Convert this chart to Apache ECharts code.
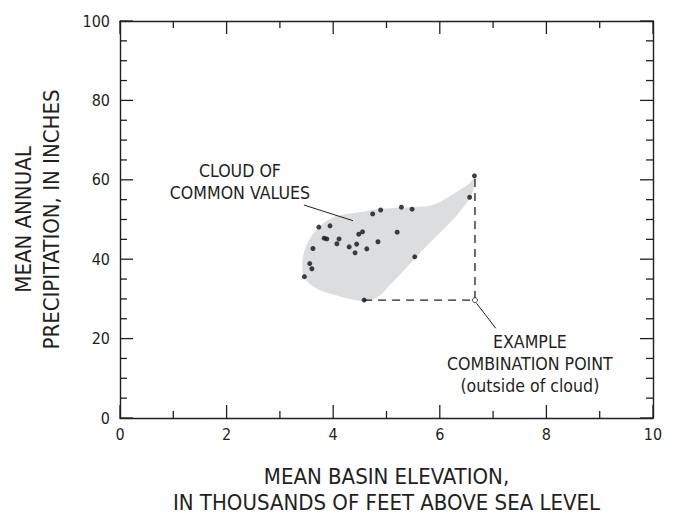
<!DOCTYPE html>
<html>
<head>
<meta charset="utf-8">
<script src="https://cdn.jsdelivr.net/npm/echarts@6/dist/echarts.min.js"></script>
<style>html,body{margin:0;padding:0;background:#fff;overflow:hidden}#c{width:675px;height:514px}</style>
</head>
<body>
<div id="c"></div>
<script>
// ---- data ----
var xTicks = [0, 2, 4, 6, 8, 10];
var xMinorTicks = [1, 3, 5, 7, 9];
var yTicks = [0, 20, 40, 60, 80, 100];
var yMinorTicks = [5, 10, 15, 25, 30, 35, 45, 50, 55, 65, 70, 75, 85, 90, 95];
// observed basins: [mean basin elevation (1000 ft), mean annual precipitation (in)]
var basinPoints = [
  [6.65, 61.0], [6.56, 55.6], [5.28, 53.1], [5.48, 52.6], [4.89, 52.4],
  [4.74, 51.4], [3.73, 48.1], [3.94, 48.4], [4.55, 46.9], [4.48, 46.3],
  [5.20, 46.8], [3.83, 45.3], [3.88, 45.1], [4.11, 45.1], [4.07, 43.9],
  [4.84, 44.4], [4.44, 43.8], [4.30, 43.1], [4.63, 42.6], [4.41, 41.6],
  [3.62, 42.7], [5.53, 40.6], [3.56, 38.9], [3.60, 37.6], [3.46, 35.6],
  [4.58, 29.7]
];
var examplePoint = [[6.66, 29.7]];
var dashedPath = [[4.58, 29.7], [6.66, 29.7], [6.66, 61.0]];
// outline of the cloud of common values
var cloudOutline = [
  [6.657, 60.8], [6.66, 59.2], [6.563, 55.4], [6.319, 51.1], [6.000, 46.6],
  [5.681, 42.3], [5.381, 38.0], [5.063, 33.5], [4.838, 30.5], [4.594, 29.5],
  [4.350, 29.85], [4.031, 31.0], [3.788, 32.0], [3.563, 33.75], [3.450, 35.5],
  [3.422, 38.0], [3.441, 41.1], [3.525, 44.3], [3.656, 46.85], [3.844, 49.4],
  [4.088, 50.96], [4.538, 51.9], [4.875, 52.64], [5.250, 52.97], [5.625, 53.22],
  [5.869, 53.65], [6.131, 55.42], [6.375, 57.43], [6.563, 59.19]
];
var annotations = [
  {at: [2.25, 59.5], text: 'CLOUD OF\nCOMMON VALUES'},
  {at: [7.69, 13.5], text: 'EXAMPLE\nCOMBINATION POINT\n(outside of cloud)'}
];
var leaderLines = [
  [[3.45, 53.65], [4.37, 49.7]],
  [[6.69, 28.9], [7.05, 22.6]]
];
var xTitle = 'MEAN BASIN ELEVATION,\nIN THOUSANDS OF FEET ABOVE SEA LEVEL';
var yTitle = 'MEAN ANNUAL\nPRECIPITATION, IN INCHES';

// ---- chart ----
var FONT = '"Liberation Sans Narrow","DejaVu Sans Condensed","Arial Narrow",sans-serif';
var INK = '#231f20';
var MAJOR = 13, MINOR = 7;
var chart = echarts.init(document.getElementById('c'), null, {renderer: 'svg'});

var xMin = xTicks[0], xMax = xTicks[xTicks.length - 1];
var yMin = yTicks[0], yMax = yTicks[yTicks.length - 1];

function axisCommon(showLabel) {
  return {
    axisLine: {show: true, onZero: false, lineStyle: {color: INK, width: 1.4}},
    axisTick: {show: false},
    minorTick: {show: false},
    splitLine: {show: false},
    axisLabel: {show: showLabel, color: INK, fontFamily: FONT, fontSize: 16}
  };
}
var xb = Object.assign(axisCommon(true), {
  type: 'value', position: 'bottom', min: xMin, max: xMax, interval: 2,
  name: xTitle, nameLocation: 'middle', nameGap: 45,
  nameTextStyle: {color: INK, fontFamily: FONT, fontSize: 22, lineHeight: 26}
});
xb.axisLabel.margin = 8;
var xt = Object.assign(axisCommon(false), {
  type: 'value', position: 'top', min: xMin, max: xMax, interval: 2
});
var yl = Object.assign(axisCommon(true), {
  type: 'value', position: 'left', min: yMin, max: yMax, interval: 20,
  name: yTitle, nameLocation: 'middle', nameGap: 55, nameRotate: 90,
  nameTextStyle: {color: INK, fontFamily: FONT, fontSize: 22, lineHeight: 28}
});
yl.axisLabel.margin = 10;
var yr = Object.assign(axisCommon(false), {
  type: 'value', position: 'right', min: yMin, max: yMax, interval: 20
});

var series = [];
series.push({
  type: 'custom', name: 'cloud', coordinateSystem: 'cartesian2d', silent: true, z: 1,
  data: [[0, 0]],
  renderItem: function (params, api) {
    var pts = cloudOutline.map(function (p) { return api.coord(p); });
    return {type: 'polygon', shape: {points: pts, smooth: 0.35}, style: {fill: '#dcddde', stroke: null}};
  }
});
// inward tick marks on all four sides, placed through the axis scales
series.push({
  type: 'custom', name: 'ticks', coordinateSystem: 'cartesian2d', silent: true, z: 6,
  data: [[0, 0]],
  renderItem: function (params, api) {
    var st = {stroke: INK, lineWidth: 1.3};
    var kids = [];
    function xt(v, len) {
      var a = api.coord([v, yMin]), b = api.coord([v, yMax]);
      kids.push({type: 'line', shape: {x1: a[0], y1: a[1], x2: a[0], y2: a[1] - len}, style: st});
      kids.push({type: 'line', shape: {x1: b[0], y1: b[1], x2: b[0], y2: b[1] + len}, style: st});
    }
    function yt(v, len) {
      var a = api.coord([xMin, v]), b = api.coord([xMax, v]);
      kids.push({type: 'line', shape: {x1: a[0], y1: a[1], x2: a[0] + len, y2: a[1]}, style: st});
      kids.push({type: 'line', shape: {x1: b[0], y1: b[1], x2: b[0] - len, y2: b[1]}, style: st});
    }
    xTicks.forEach(function (v) { xt(v, MAJOR); });
    xMinorTicks.forEach(function (v) { xt(v, MINOR); });
    yTicks.forEach(function (v) { yt(v, MAJOR); });
    yMinorTicks.forEach(function (v) { yt(v, MINOR); });
    return {type: 'group', children: kids};
  }
});
series.push({
  type: 'line', name: 'guide', data: dashedPath, symbol: 'none', silent: true, z: 2,
  lineStyle: {color: INK, width: 1.3, type: [8, 6]}
});
leaderLines.forEach(function (seg) {
  series.push({type: 'line', data: seg, symbol: 'none', silent: true, z: 2,
    lineStyle: {color: INK, width: 1}});
});
series.push({
  type: 'scatter', name: 'basins', data: basinPoints, symbol: 'circle', symbolSize: 5, z: 3,
  itemStyle: {color: '#111'}
});
series.push({
  type: 'scatter', name: 'example', data: examplePoint, symbol: 'circle', symbolSize: 5, z: 4,
  itemStyle: {color: '#fff', borderColor: INK, borderWidth: 1}
});
series.push({
  type: 'custom', name: 'notes', coordinateSystem: 'cartesian2d', silent: true, z: 5,
  data: annotations.map(function (a, i) { return [a.at[0], a.at[1], i]; }),
  renderItem: function (params, api) {
    var p = api.coord([api.value(0), api.value(1)]);
    var a = annotations[api.value(2)];
    return {type: 'text', x: p[0], y: p[1], style: {
      text: a.text, fill: INK, font: '17.6px ' + FONT, lineHeight: 22,
      align: 'center', verticalAlign: 'middle'}};
  }
});

chart.setOption({
  backgroundColor: '#fff',
  animation: false,
  grid: {left: 120, top: 21, width: 533, height: 397, outerBoundsMode: 'none', containLabel: false},
  xAxis: [xb, xt],
  yAxis: [yl, yr],
  series: series
});
</script>
</body>
</html>
